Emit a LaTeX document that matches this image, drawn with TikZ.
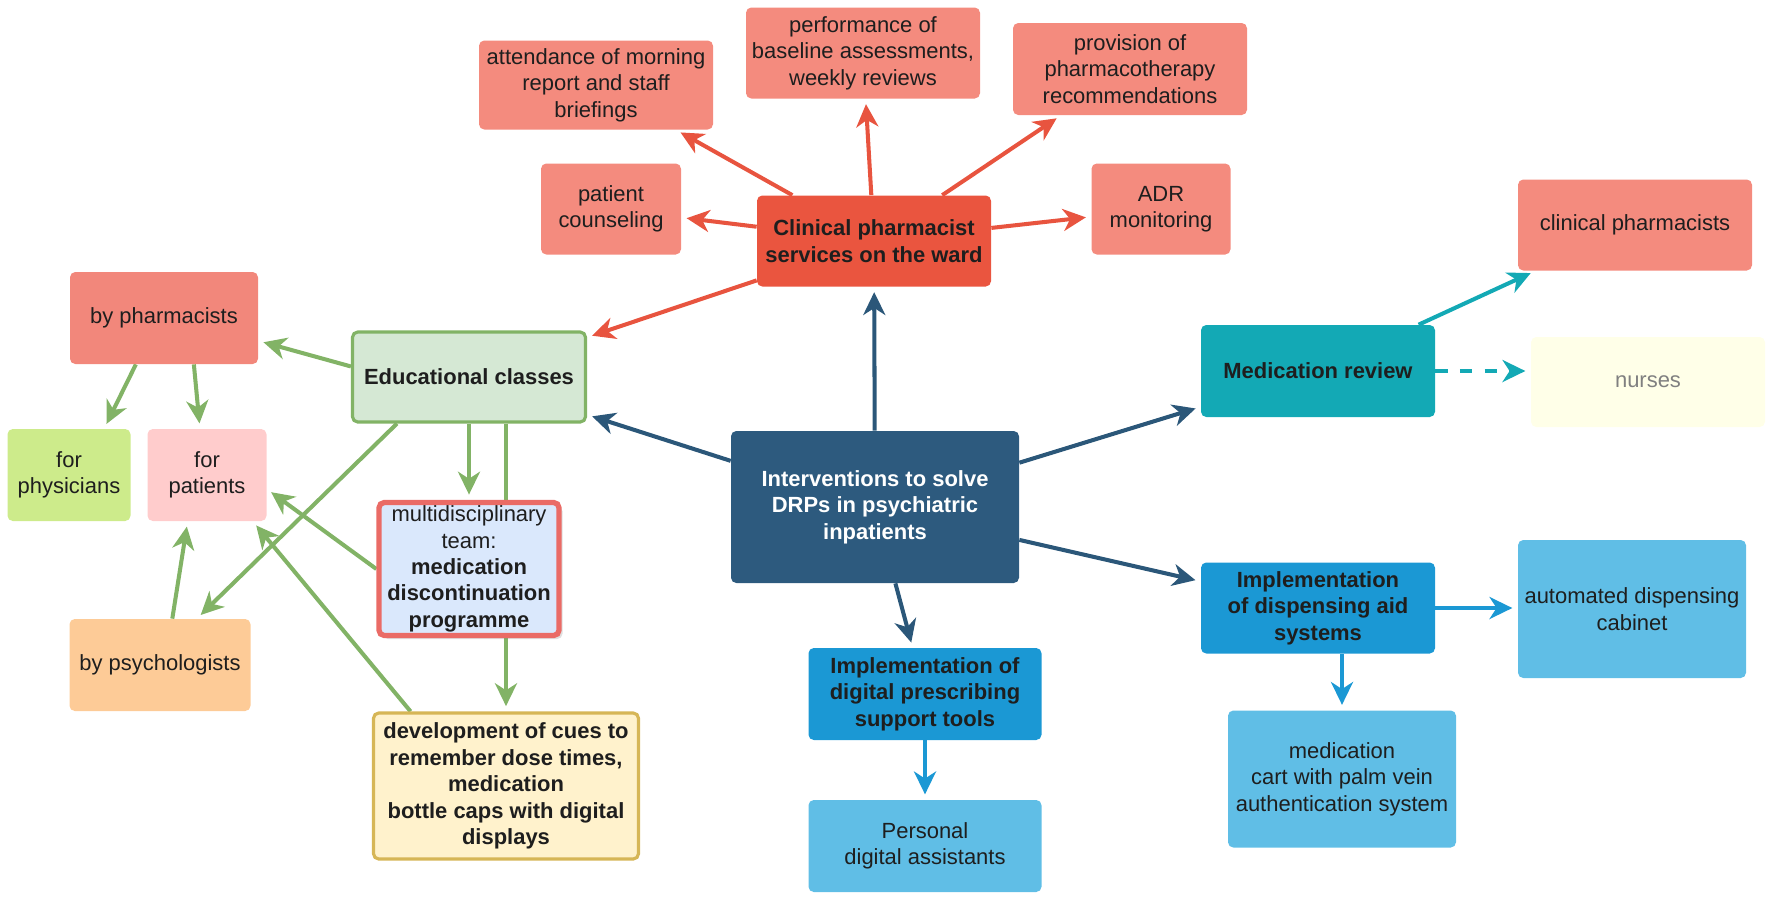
\documentclass[tikz,border=0pt]{standalone}
\usepackage{fontspec}
\setmainfont{Liberation Sans}
\usetikzlibrary{arrows.meta,backgrounds,shadows}

\definecolor{ink}{HTML}{1E1E1E}
\definecolor{hubblue}{HTML}{2D5A7E}
\definecolor{hubarrow}{HTML}{2B5779}
\definecolor{cpsred}{HTML}{EA553F}
\definecolor{redarrow}{HTML}{E8543F}
\definecolor{salmon}{HTML}{F48B7E}
\definecolor{teal}{HTML}{13A9B5}
\definecolor{cream}{HTML}{FFFFE8}
\definecolor{midblue}{HTML}{1B98D4}
\definecolor{lightblue}{HTML}{60BEE6}
\definecolor{edufill}{HTML}{D5E8D4}
\definecolor{edugreen}{HTML}{82B366}
\definecolor{pharmred}{HTML}{F2877B}
\definecolor{lime}{HTML}{CDEB8B}
\definecolor{pink}{HTML}{FFCCCC}
\definecolor{peach}{HTML}{FDCB97}
\definecolor{mdfill}{HTML}{DAE8FC}
\definecolor{mdred}{HTML}{EA6B66}
\definecolor{devfill}{HTML}{FFF2CC}
\definecolor{devgold}{HTML}{D6B656}

\begin{document}
\begin{tikzpicture}
  [x=0.02cm,y=-0.02cm,
   every node/.style={rectangle,rounded corners=3pt,align=center,inner sep=2pt,
     font=\fontsize{12.5}{15}\selectfont,text=ink},
   px/.style 2 args={minimum width=#1*0.02cm,minimum height=#2*0.02cm},
   hd/.style={font=\fontsize{12.5}{15}\selectfont\bfseries},
   link/.style={line width=2.3pt,shorten >=3pt,-{Stealth[length=13pt,width=12.5pt,inset=4pt]}}]
  \useasboundingbox (0,0) rectangle (1772,900);

  % centre and the ward services
  \node (hub) at (875,507) [px={288}{152},fill=hubblue,hd,text=white] {Interventions to solve\\DRPs in psychiatric\\inpatients};
  \node (cps) at (874,241) [px={234}{91},fill=cpsred,hd] {Clinical pharmacist\\services on the ward};
  \node (couns) at (611,209) [px={140}{91},fill=salmon] {patient\\counseling};
  \node (att) at (596,85) [px={234}{89},fill=salmon] {attendance of morning\\report and staff\\briefings};
  \node (perf) at (863,53) [px={234}{91},fill=salmon] {performance of\\baseline assessments,\\weekly reviews};
  \node (prov) at (1130,69) [px={234}{92},fill=salmon] {provision of\\pharmacotherapy\\recommendations};
  \node (adr) at (1161,209) [px={139}{91},fill=salmon] {ADR\\monitoring};

  % medication review
  \node (mr) at (1318,371) [px={234}{92},fill=teal,hd] {Medication review};
  \node (clph) at (1635,225) [px={234}{91},fill=salmon] {clinical pharmacists};
  \node (nurse) at (1648,382) [px={234}{90},fill=cream,text=black!50] {nurses};

  % dispensing and prescribing
  \node (disp) at (1318,608) [px={234}{91},fill=midblue,hd] {Implementation\\of dispensing aid\\systems};
  \node (cab) at (1632,609) [px={228}{138},fill=lightblue] {automated dispensing\\cabinet};
  \node (cart) at (1342,779) [px={228}{137},fill=lightblue] {medication\\cart with palm vein\\authentication system};
  \node (dig) at (925,694) [px={233}{92},fill=midblue,hd] {Implementation of\\digital prescribing\\support tools};
  \node (pda) at (925,846) [px={233}{92},fill=lightblue] {Personal\\digital assistants};

  % education
  \node (edu) at (469,377) [px={233}{90},fill=edufill,draw=edugreen,line width=1.8pt,hd] {Educational classes};
  \node (bph) at (164,318) [px={188}{92},fill=pharmred] {by pharmacists};
  \node (fphy) at (69,475) [px={123}{92},fill=lime] {for\\physicians};
  \node (fpat) at (207,475) [px={119}{92},fill=pink] {for\\patients};
  \node (md) at (469,569) [px={180}{133},fill=mdfill,draw=mdred,line width=3pt,
    drop shadow={opacity=0.25,shadow xshift=2pt,shadow yshift=-2pt}] {multidisciplinary\\team:\\\textbf{medication}\\\textbf{discontinuation}\\\textbf{programme}};
  \node (bpsy) at (160,665) [px={181}{92},fill=peach] {by psychologists};
  \node (dev) at (506,786) [px={265}{146},fill=devfill,draw=devgold,line width=1.8pt,hd] {development of cues to\\remember dose times,\\medication\\bottle caps with digital\\displays};

  \begin{scope}[on background layer]
    \foreach \from/\to in {hub/cps,hub/edu,hub/mr,hub/disp,hub/dig}
      \draw[link,hubarrow] (\from) -- (\to);
    \foreach \from/\to in {cps/couns,cps/att,cps/perf,cps/prov,cps/adr,cps/edu}
      \draw[link,redarrow] (\from) -- (\to);

    \draw[link,teal] (mr) -- (clph);
    \draw[link,teal,dashed,dash pattern=on 7pt off 7pt] (mr.east) -- (mr.east -| nurse.west);
    \draw[link,midblue] (disp.east) -- (disp.east -| cab.west);
    \draw[link,midblue] (disp.south -| cart) -- (cart.north);
    \draw[link,midblue] (dig) -- (pda);

    \draw[link,edugreen] ([yshift=6pt]edu.west) -- ([yshift=-13pt]bph.east);
    \draw[link,edugreen] (edu) -- (md);
    \draw[link,edugreen] (edu.south -| dev) -- (dev.north);
    \draw[link,edugreen] ([xshift=-41pt]edu.south) -- ([xshift=21pt]bpsy.north);
    \draw[link,edugreen] ([xshift=-16pt]bph.south) -- ([xshift=20pt]fphy.north);
    \draw[link,edugreen] ([xshift=17pt]bph.south) -- ([xshift=-4pt]fpat.north);
    \draw[link,edugreen] (md.west) -- ([yshift=-8pt]fpat.east);
    \draw[link,edugreen] ([xshift=22pt]dev.north west) -- ([xshift=-8pt]fpat.south east);
    \draw[link,edugreen] ([xshift=7pt]bpsy.north) -- ([xshift=-11pt]fpat.south);
  \end{scope}
\end{tikzpicture}
\end{document}
